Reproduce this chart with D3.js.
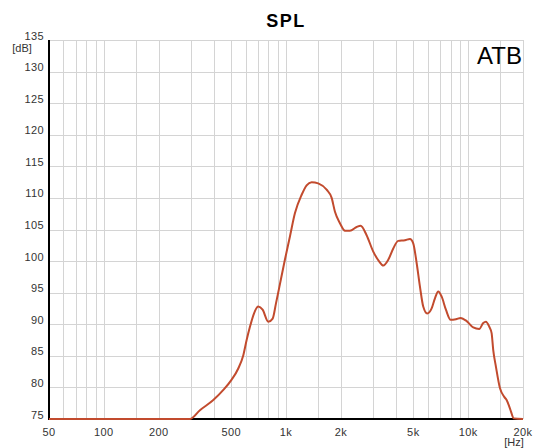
<!DOCTYPE html>
<html>
<head>
<meta charset="utf-8">
<script src="https://cdn.jsdelivr.net/npm/d3@7"></script>
<style>
  body { margin: 0; background: #fff; }
  text { font-family: "Liberation Sans", Arial, sans-serif; }
</style>
</head>
<body>
<svg id="chart" width="543" height="448"></svg>
<script>
// frequency response (Hz / dB)
const freqs = [50, 297, 337, 399, 453, 502, 547, 583, 608, 634, 667, 704, 744, 799, 845, 881, 915,
  986, 1051, 1120, 1219, 1298, 1383, 1503, 1671, 1781, 1857, 1977, 2108, 2244, 2442, 2569, 2770,
  3013, 3237, 3419, 3641, 3880, 4131, 4498, 4792, 4994, 5214, 5434, 5667, 5962, 6302, 6572, 6852,
  7147, 7549, 8014, 8568, 9093, 9816, 10660, 11500, 12100, 12510, 13060, 13450, 13730, 14200,
  14940, 15780, 16260, 16950, 17820, 20000];
const spl = [75, 75, 76.4, 78.0, 79.6, 81.2, 83.0, 85.1, 87.5, 89.6, 91.7, 92.8, 92.3, 90.4, 90.9, 93.3, 95.6,
  100.2, 103.9, 107.6, 110.5, 112.0, 112.5, 112.3, 111.3, 110.0, 107.8, 106.0, 104.8, 104.8, 105.4, 105.6, 104.1,
  101.5, 100.0, 99.3, 100.2, 102.0, 103.2, 103.3, 103.5, 102.8, 99.7, 96.0, 92.8, 91.7, 92.5, 94.1, 95.2,
  94.4, 92.3, 90.7, 90.8, 91.0, 90.5, 89.5, 89.25, 90.2, 90.4, 89.6, 88.6, 85.9, 83.3,
  79.9, 78.5, 78.0, 76.7, 75.1, 75];

const xTicks = [50, 100, 200, 500, 1000, 2000, 5000, 10000, 20000];
const xTickLabels = ["50", "100", "200", "500", "1k", "2k", "5k", "10k", "20k"];
const yTicks = d3.range(75, 136, 5);
const xGrid = [].concat(
  d3.range(50, 101, 10), [150],
  d3.range(200, 1001, 100), [1500],
  d3.range(2000, 10001, 1000), [15000, 20000]);

const svg = d3.select("#chart");
const plotL = 49, plotR = 523, plotT = 40, plotB = 419;

const x = d3.scaleLog().domain([50, 20000]).range([plotL, plotR]);
const y = d3.scaleLinear().domain([75, 135]).range([plotB, plotT]);

// grid
svg.append("g").attr("stroke", "#d4d4d4").attr("stroke-width", 1)
  .selectAll("line").data(xGrid).join("line")
  .attr("x1", d => Math.round(x(d)) + 0.5).attr("x2", d => Math.round(x(d)) + 0.5)
  .attr("y1", plotT).attr("y2", plotB);
svg.append("g").attr("stroke", "#d4d4d4").attr("stroke-width", 1)
  .selectAll("line").data(yTicks).join("line")
  .attr("x1", plotL).attr("x2", plotR)
  .attr("y1", d => Math.round(y(d)) + 0.5).attr("y2", d => Math.round(y(d)) + 0.5);

// axes lines
svg.append("line").attr("x1", plotL).attr("x2", plotL).attr("y1", plotT).attr("y2", plotB + 1)
  .attr("stroke", "#000").attr("stroke-width", 2);
svg.append("line").attr("x1", plotL).attr("x2", plotR).attr("y1", plotB).attr("y2", plotB)
  .attr("stroke", "#000").attr("stroke-width", 2);

// tick labels
svg.append("g").selectAll("text").data(yTicks).join("text")
  .attr("x", 44).attr("y", d => y(d) - 0.5)
  .attr("text-anchor", "end").attr("font-size", 11).attr("fill", "#333")
  .attr("letter-spacing", 0.4)
  .text(d => d);
svg.append("g").selectAll("text").data(xTicks).join("text")
  .attr("x", d => x(d)).attr("y", 435.5)
  .attr("text-anchor", "middle").attr("font-size", 11).attr("fill", "#333")
  .attr("letter-spacing", 0.4)
  .text((d, i) => xTickLabels[i]);

svg.append("text").attr("x", 22).attr("y", 52).attr("text-anchor", "middle")
  .attr("font-size", 11).attr("fill", "#333").text("[dB]");
svg.append("text").attr("x", 514).attr("y", 446).attr("text-anchor", "middle")
  .attr("font-size", 11).attr("fill", "#333").text("[Hz]");

// title and label
svg.append("text").attr("x", 286).attr("y", 27).attr("text-anchor", "middle")
  .attr("font-size", 18).attr("font-weight", "bold").attr("fill", "#000")
  .attr("letter-spacing", 1.5).text("SPL");
svg.append("text").attr("x", 522).attr("y", 64).attr("text-anchor", "end")
  .attr("font-size", 24).attr("fill", "#000").text("ATB");

// curve
const line = d3.line()
  .x((d, i) => x(freqs[i]))
  .y(d => y(d))
  .curve(d3.curveMonotoneX);
svg.append("path").datum(spl)
  .attr("d", line)
  .attr("fill", "none")
  .attr("stroke", "#c24b2e")
  .attr("stroke-width", 2)
  .attr("stroke-linejoin", "round");
</script>
</body>
</html>
